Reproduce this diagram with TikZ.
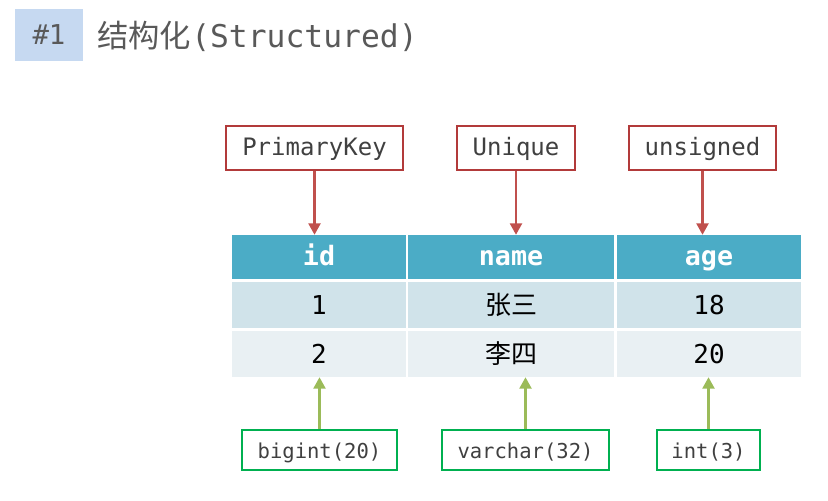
\documentclass[tikz,border=0pt]{standalone}
\usepackage{fontspec}
\setmonofont{DejaVu Sans Mono}
\newfontfamily\cjk{Noto Sans CJK SC}
\usepackage{xcolor}
\definecolor{titleGray}{HTML}{595959}
\definecolor{tagBlue}{HTML}{C6D9F1}
\definecolor{keyRed}{HTML}{B23A3A}
\definecolor{keyRedLine}{HTML}{C0504D}
\definecolor{typeGreen}{HTML}{00B050}
\definecolor{arrowGreen}{HTML}{9BBB59}
\definecolor{headTeal}{HTML}{4BACC6}
\definecolor{rowOdd}{HTML}{D0E3EA}
\definecolor{rowEven}{HTML}{E9F0F3}
\definecolor{labelGray}{HTML}{404040}
\usetikzlibrary{arrows.meta,positioning}
\tikzset{
    keybox/.style={
        draw=keyRed,
        fill=white,
        rectangle,
        line width=1.5pt,
        minimum height=33pt,
        inner sep=0pt,
        text height=13pt,
        text depth=2pt,
        font=\fontsize{18}{20}\selectfont\ttfamily,
        text=labelGray
    },
    typebox/.style={
        draw=typeGreen,
        fill=white,
        rectangle,
        line width=1.5pt,
        minimum height=30pt,
        inner sep=0pt,
        text height=13pt,
        text depth=1pt,
        font=\fontsize{15.4}{17}\selectfont\ttfamily,
        text=labelGray
    },
    headcell/.style={
        fill=headTeal,
        rectangle,
        minimum height=33pt,
        inner sep=0pt,
        text height=14pt,
        text depth=1pt,
        font=\fontsize{20}{22}\selectfont\ttfamily\bfseries,
        text=white
    },
    rowcell/.style={
        rectangle,
        minimum height=34.5pt,
        inner sep=0pt,
        text height=16pt,
        text depth=2pt,
        font=\fontsize{19.5}{22}\selectfont\ttfamily,
        text=black
    },
    redarrow/.style={
        -{Triangle[width=9pt,length=8.5pt]},
        line width=1.6pt,
        color=keyRedLine
    },
    greenarrow/.style={
        -{Triangle[width=9pt,length=8.5pt]},
        line width=1.6pt,
        color=arrowGreen
    }
}
\begin{document}
\begin{tikzpicture}[x=0.75pt,y=-0.75pt]
    \useasboundingbox (0,0) rectangle (828,500);
    % Title
    \node[fill=tagBlue, minimum width=51pt, minimum height=39pt, inner sep=0pt,
          font=\fontsize{20.5}{22}\selectfont\ttfamily, text=titleGray] (tag) at (49,35) {\#1};
    \node[anchor=base west, inner sep=0pt, text=titleGray,
          font=\fontsize{23.5}{26}\selectfont] (title) at (97,47) {{\cjk 结构化}\texttt{(Structured)}};

    % Constraints
    \node[keybox, minimum width=132.75pt] (pk) at (314.5,148) {PrimaryKey};
    \node[keybox, minimum width=88.5pt] (uq) at (516,148) {Unique};
    \node[keybox, minimum width=110.25pt] (us) at (702.5,148) {unsigned};

    % Table header
    \node[headcell, minimum width=130.5pt] (hid) at (319,257) {id};
    \node[headcell, minimum width=154.5pt] (hname) at (511,257) {name};
    \node[headcell, minimum width=138pt] (hage) at (709,257) {age};

    % Rows
    \node[rowcell, fill=rowOdd, minimum width=130.5pt] (aid) at (319,305) {1};
    \node[rowcell, fill=rowOdd, minimum width=154.5pt] (aname) at (511,305) {\cjk 张三};
    \node[rowcell, fill=rowOdd, minimum width=138pt] (aage) at (709,305) {18};
    \node[rowcell, fill=rowEven, minimum width=130.5pt] (bid) at (319,354) {2};
    \node[rowcell, fill=rowEven, minimum width=154.5pt] (bname) at (511,354) {\cjk 李四};
    \node[rowcell, fill=rowEven, minimum width=138pt] (bage) at (709,354) {20};

    % Types
    \node[typebox, minimum width=116.25pt] (tbig) at (319.5,450) {bigint(20)};
    \node[typebox, minimum width=125.25pt] (tvar) at (525.5,450) {varchar(32)};
    \node[typebox, minimum width=77.25pt] (tint) at (708.5,450) {int(3)};

    % Arrows
    \draw[redarrow] (pk.south) -- (pk.south |- hid.north);
    \draw[redarrow] (uq.south) -- (uq.south |- hname.north);
    \draw[redarrow] (us.south) -- (us.south |- hage.north);
    \draw[greenarrow] (tbig.north) -- (tbig.north |- bid.south);
    \draw[greenarrow] (tvar.north) -- (tvar.north |- bname.south);
    \draw[greenarrow] (tint.north) -- (tint.north |- bage.south);
\end{tikzpicture}
\end{document}
